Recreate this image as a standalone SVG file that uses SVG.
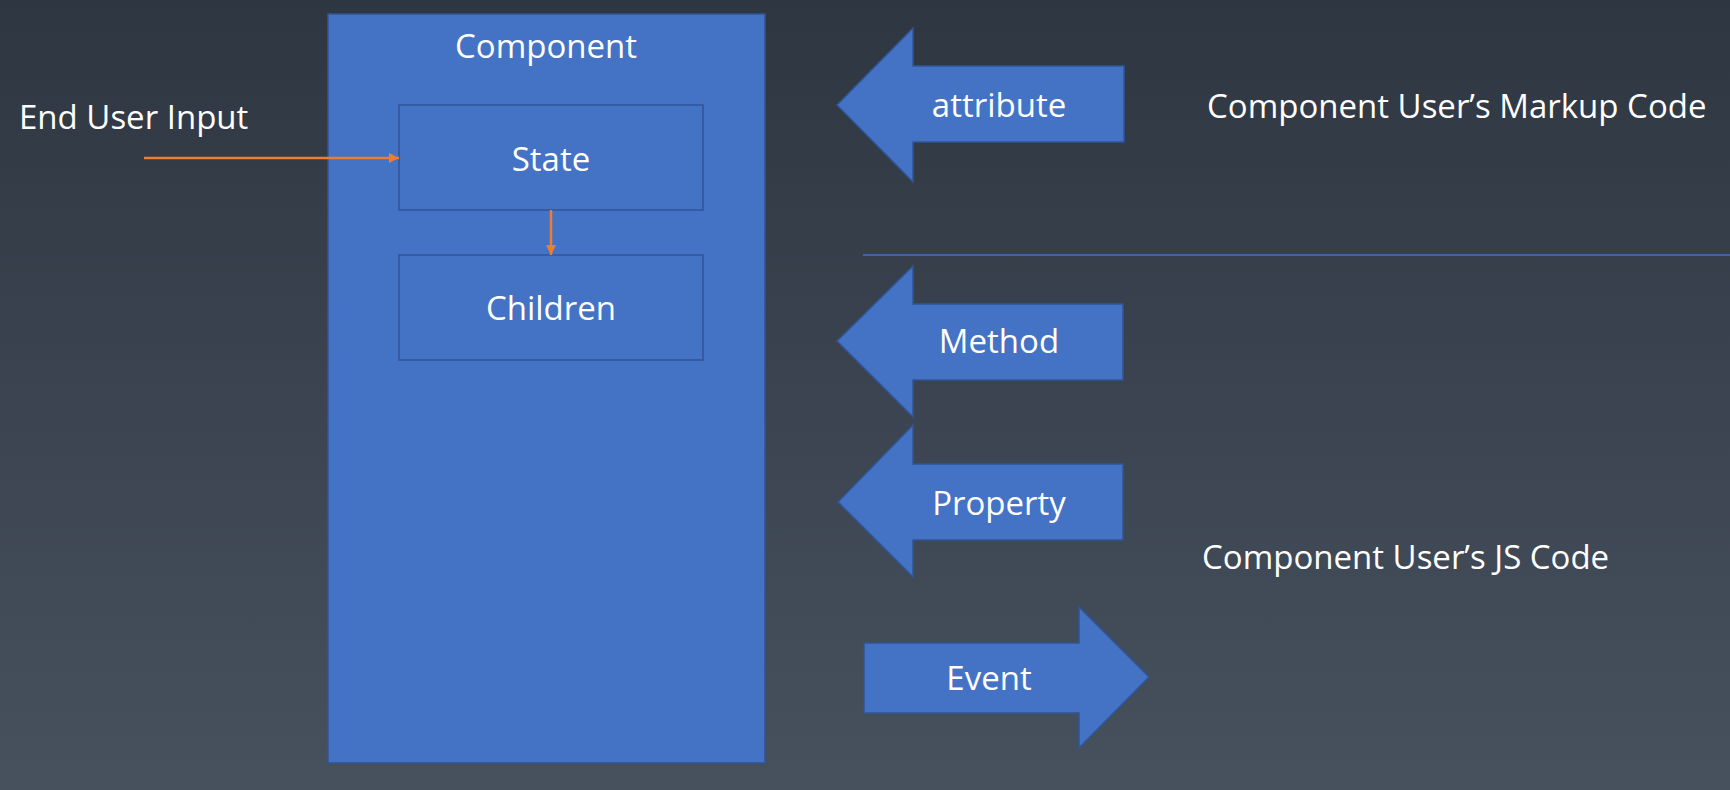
<svg xmlns="http://www.w3.org/2000/svg" width="1730" height="790" viewBox="0 0 1730 790">
<defs>
<linearGradient id="bg" x1="0" y1="0" x2="0" y2="1">
<stop offset="0" stop-color="#2E3641"/>
<stop offset="1" stop-color="#47515E"/>
</linearGradient>
<marker id="oarr" viewBox="0 0 10 10" refX="10" refY="5" markerWidth="10" markerHeight="10" markerUnits="userSpaceOnUse" orient="auto">
<path d="M0,0 L10,5 L0,10 Z" fill="#ED7D31"/>
</marker>
</defs>
<style>
.box{fill:#4472C4;stroke:#2F5597;stroke-width:1.5}
.arrow{fill:#4472C4;stroke:#2F5597;stroke-width:1.5}
.t{fill:#FFFFFF;font-family:"Open Sans","Liberation Sans",sans-serif;font-size:33px}
.c{text-anchor:middle}
.conn{stroke:#ED7D31;stroke-width:2.5;fill:none}
</style>
<rect x="0" y="0" width="1730" height="790" fill="url(#bg)"/>

<g id="component">
<rect class="box" x="328" y="14" width="437" height="749"/>
<text class="t c" x="546" y="58">Component</text>
</g>

<g id="state">
<rect class="box" x="399" y="105" width="304" height="105"/>
<text class="t c" x="551" y="171">State</text>
</g>

<g id="children">
<rect class="box" x="399" y="255" width="304" height="105"/>
<text class="t c" x="551" y="320">Children</text>
</g>

<g id="end-user-input">
<text class="t" x="19" y="129">End User Input</text>
</g>

<g id="attribute">
<polygon class="arrow" points="837,105 913,28 913,66 1124,66 1124,142 913,142 913,182"/>
<text class="t c" x="999" y="117">attribute</text>
</g>

<g id="method">
<polygon class="arrow" points="837,341 913,266 913,304 1123,304 1123,380 913,380 913,417"/>
<text class="t c" x="999" y="353">Method</text>
</g>

<g id="property">
<polygon class="arrow" points="838,502 913,425 913,464 1123,464 1123,540 913,540 913,577"/>
<text class="t c" x="999" y="515">Property</text>
</g>

<g id="event">
<polygon class="arrow" points="864,643 1079,643 1079,607 1149,677 1079,748 1079,713 864,713"/>
<text class="t c" x="989" y="690">Event</text>
</g>

<g id="markup-code">
<text class="t" x="1207" y="118">Component User’s Markup Code</text>
</g>

<g id="js-code">
<text class="t" x="1202" y="569">Component User’s JS Code</text>
</g>

<g id="separator">
<line x1="863" y1="255" x2="1730" y2="255" stroke="#4472C4" stroke-width="1.5"/>
</g>

<g id="connectors">
<line class="conn" x1="144" y1="158" x2="399" y2="158" marker-end="url(#oarr)"/>
<line class="conn" x1="551" y1="210" x2="551" y2="255" marker-end="url(#oarr)"/>
</g>
</svg>
